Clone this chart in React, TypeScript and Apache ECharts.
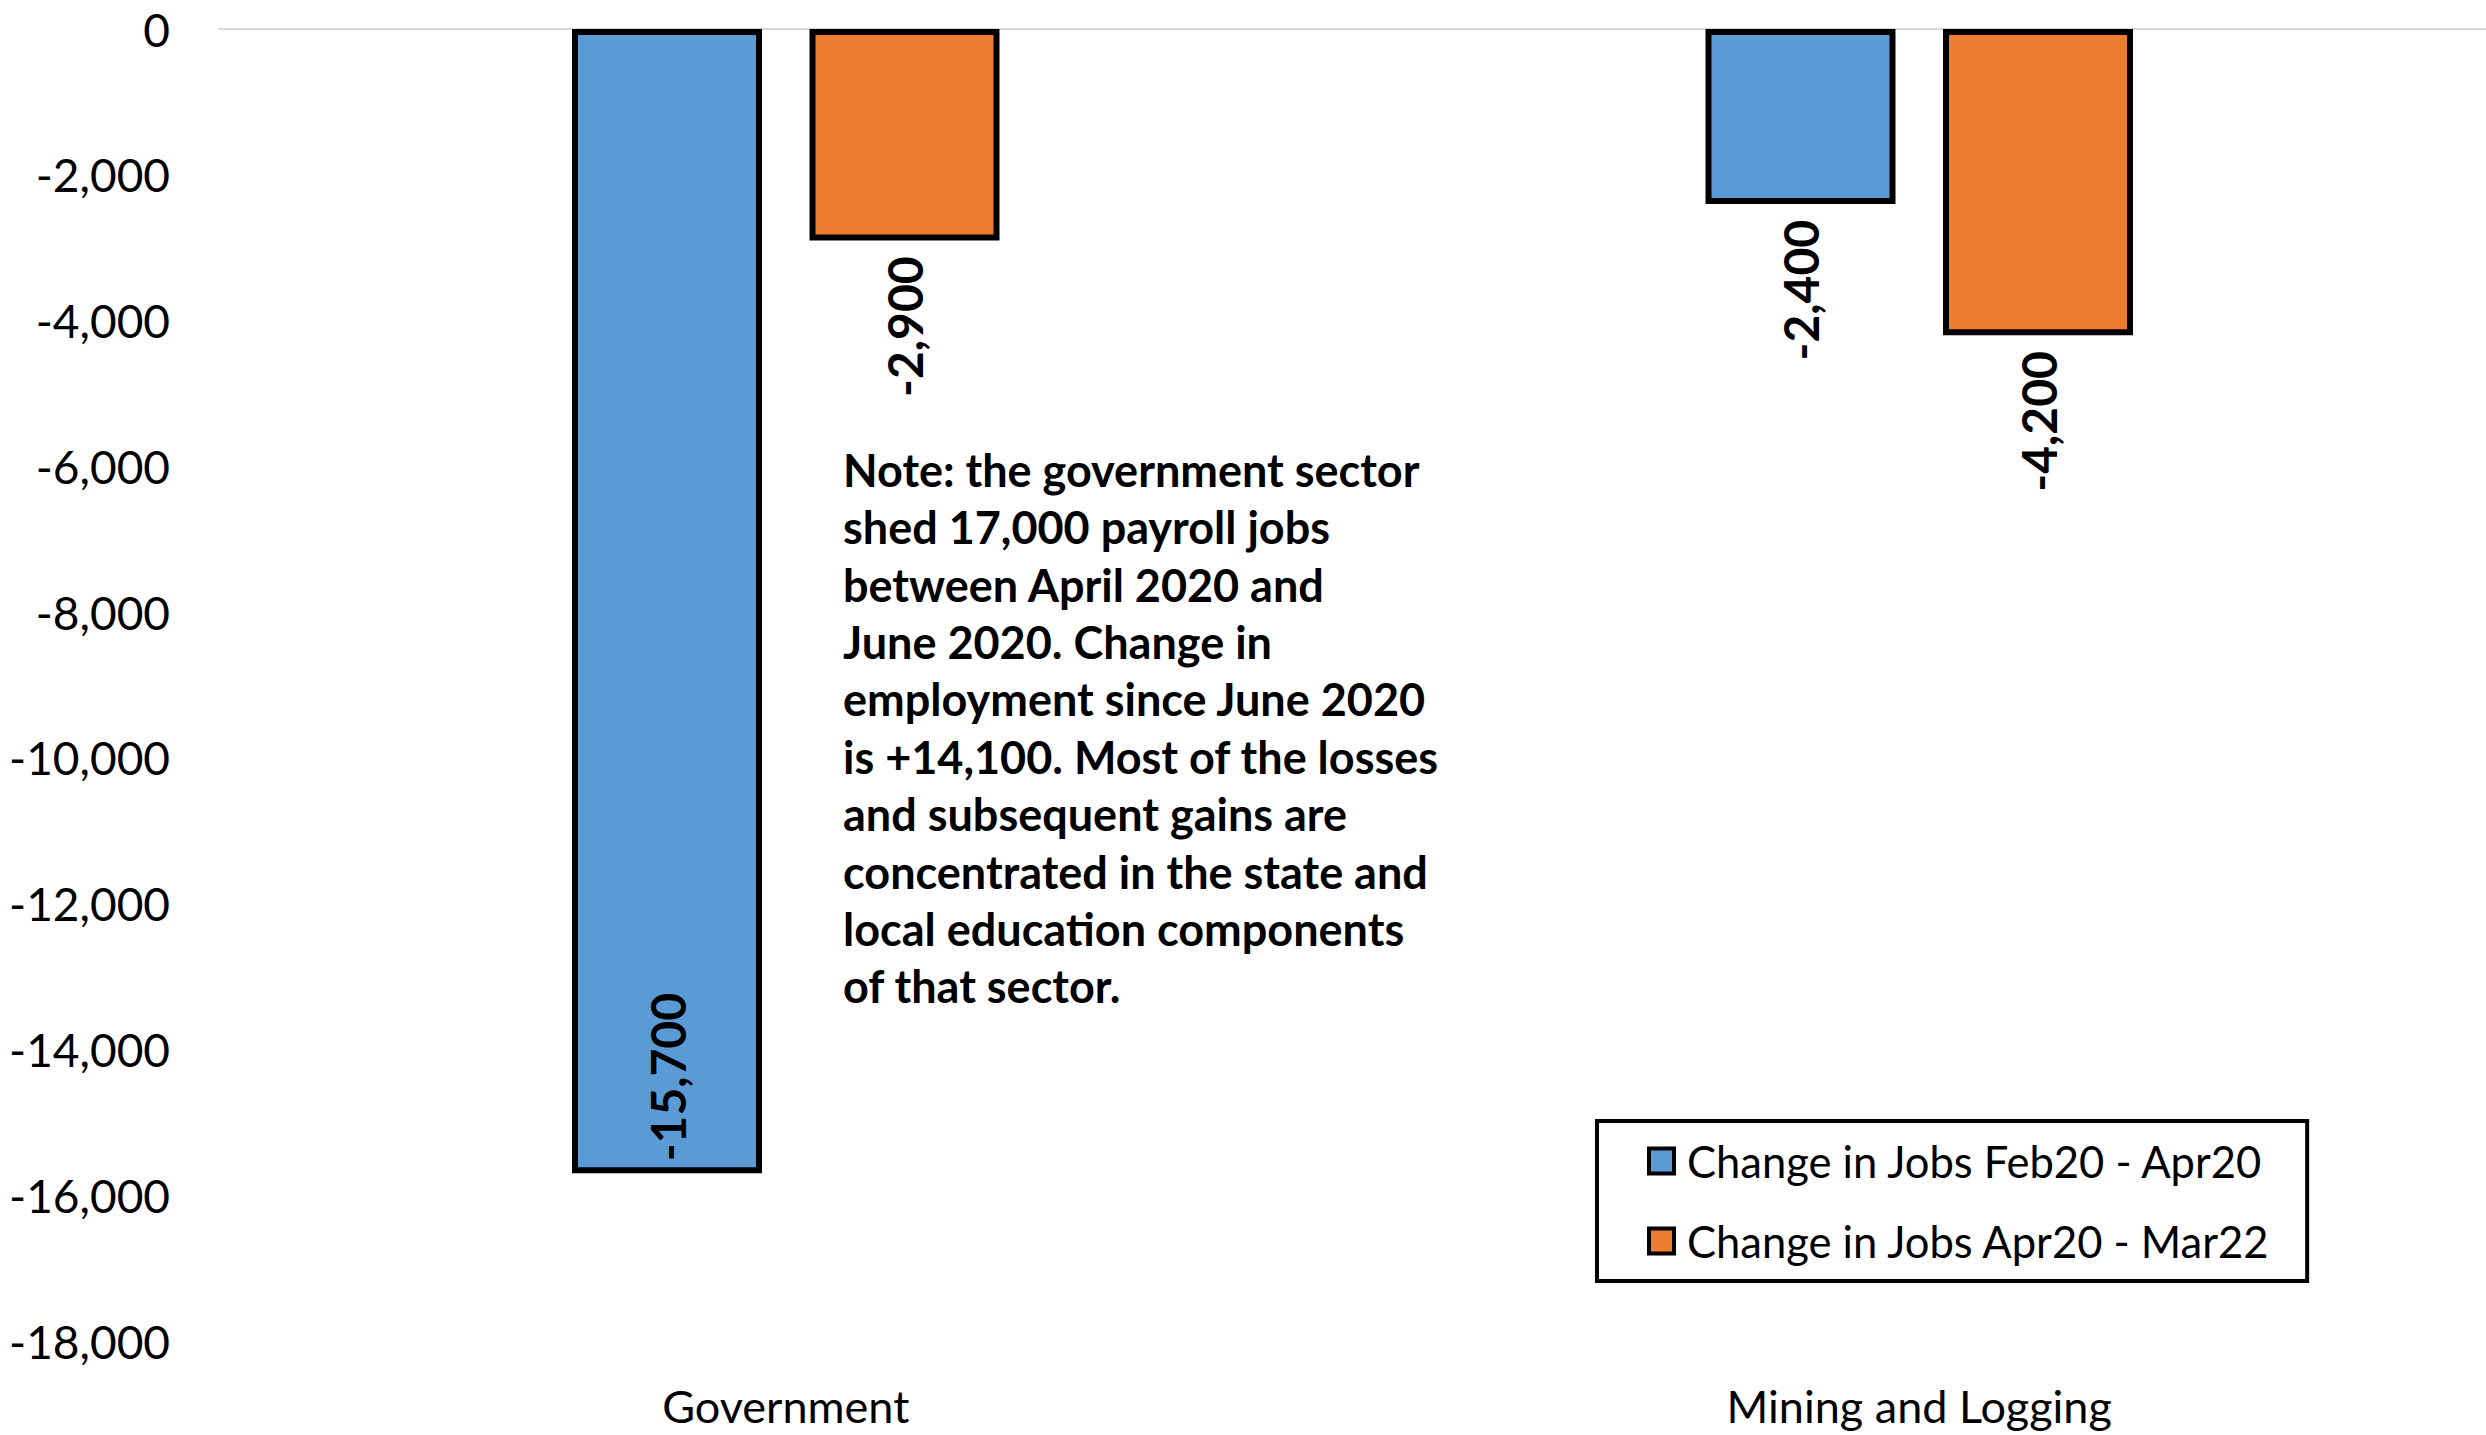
import React, { useEffect, useRef } from "react";
import * as echarts from "echarts";

const categories = ["Government", "Mining and Logging"];
const seriesNames = ["Change in Jobs Feb20 - Apr20", "Change in Jobs Apr20 - Mar22"];
const febToApr = [-15700, -2400];
const aprToMar = [-2900, -4200];
const yTicks = { min: -18000, max: 0, interval: 2000 };
const noteLines = [
  "Note: the government sector",
  "shed 17,000 payroll jobs",
  "between April 2020 and",
  "June 2020. Change in",
  "employment since June 2020",
  "is +14,100. Most of the losses",
  "and subsequent gains are",
  "concentrated in the state and",
  "local education components",
  "of that sector.",
];

const FONT = "Lato, 'Open Sans', sans-serif";

function fmt(v: number) {
  return v.toLocaleString("en-US");
}

function makeData(values: number[]) {
  return values.map((v) => {
    const inside = v < -10000;
    return {
      value: v,
      label: inside
        ? { position: "insideBottom", distance: 12, align: "left", verticalAlign: "middle" }
        : { position: "bottom", distance: 16, align: "right", verticalAlign: "middle" },
    };
  });
}

export default function App() {
  const ref = useRef<HTMLDivElement>(null);
  useEffect(() => {
    if (!ref.current) return;
    const chart = echarts.init(ref.current, undefined, { renderer: "svg" });
    const labelBase = {
      show: true,
      rotate: 90,
      fontFamily: FONT,
      fontWeight: "bold",
      fontSize: 48,
      color: "#000",
      formatter: (p: any) => fmt(p.value),
    };
    chart.setOption({
      animation: false,
      backgroundColor: "#fff",
      grid: { left: 219, right: 0, top: 29, bottom: 94, containLabel: false },
      xAxis: [
        {
          type: "category",
          data: categories,
          position: "bottom",
          axisLine: { show: false, onZero: false },
          axisTick: { show: false },
          axisLabel: { fontFamily: FONT, fontSize: 45, color: "#000", margin: 42 },
        },
        {
          type: "category",
          data: categories,
          position: "top",
          axisLine: { show: true, onZero: false, lineStyle: { color: "#d9d9d9", width: 2 } },
          axisTick: { show: false },
          axisLabel: { show: false },
        },
      ],
      yAxis: {
        type: "value",
        min: yTicks.min,
        max: yTicks.max,
        interval: yTicks.interval,
        axisLine: { show: false },
        axisTick: { show: false },
        splitLine: { show: false },
        axisLabel: {
          fontFamily: FONT,
          fontSize: 46,
          lineHeight: 40,
          color: "#000",
          margin: 49,
          formatter: (v: number) => fmt(v),
        },
      },
      legend: {
        orient: "vertical",
        left: 1597,
        top: 1121,
        data: seriesNames,
        icon: "rect",
        itemWidth: 25,
        itemHeight: 25,
        itemStyle: { borderColor: "#000", borderWidth: 4 },
        itemGap: 36,
        padding: [18, 36, 18, 50],
        borderColor: "#000",
        borderWidth: 4,
        textStyle: { fontFamily: FONT, fontSize: 43.5, color: "#000", padding: [0, 0, 0, 8] },
      },
      graphic: [
        {
          type: "text",
          left: 843,
          top: 441,
          style: {
            text: noteLines.join("\n"),
            fontFamily: FONT,
            fontWeight: "bold",
            fontSize: 45,
            lineHeight: 57.4,
            fill: "#000",
          },
        },
      ],
      series: [
        {
          name: seriesNames[0],
          type: "bar",
          data: makeData(febToApr),
          barWidth: 190,
          barGap: "25%",
          itemStyle: { color: "#5B9BD5", borderColor: "#000", borderWidth: 6 },
          label: labelBase,
        },
        {
          name: seriesNames[1],
          type: "bar",
          data: makeData(aprToMar),
          barWidth: 190,
          barGap: "25%",
          itemStyle: { color: "#ED7D31", borderColor: "#000", borderWidth: 6 },
          label: labelBase,
        },
      ],
    });
    return () => chart.dispose();
  }, []);
  return (
    <div
      ref={ref}
      style={{ position: "fixed", left: 0, top: 0, width: 2486, height: 1435 }}
    />
  );
}
